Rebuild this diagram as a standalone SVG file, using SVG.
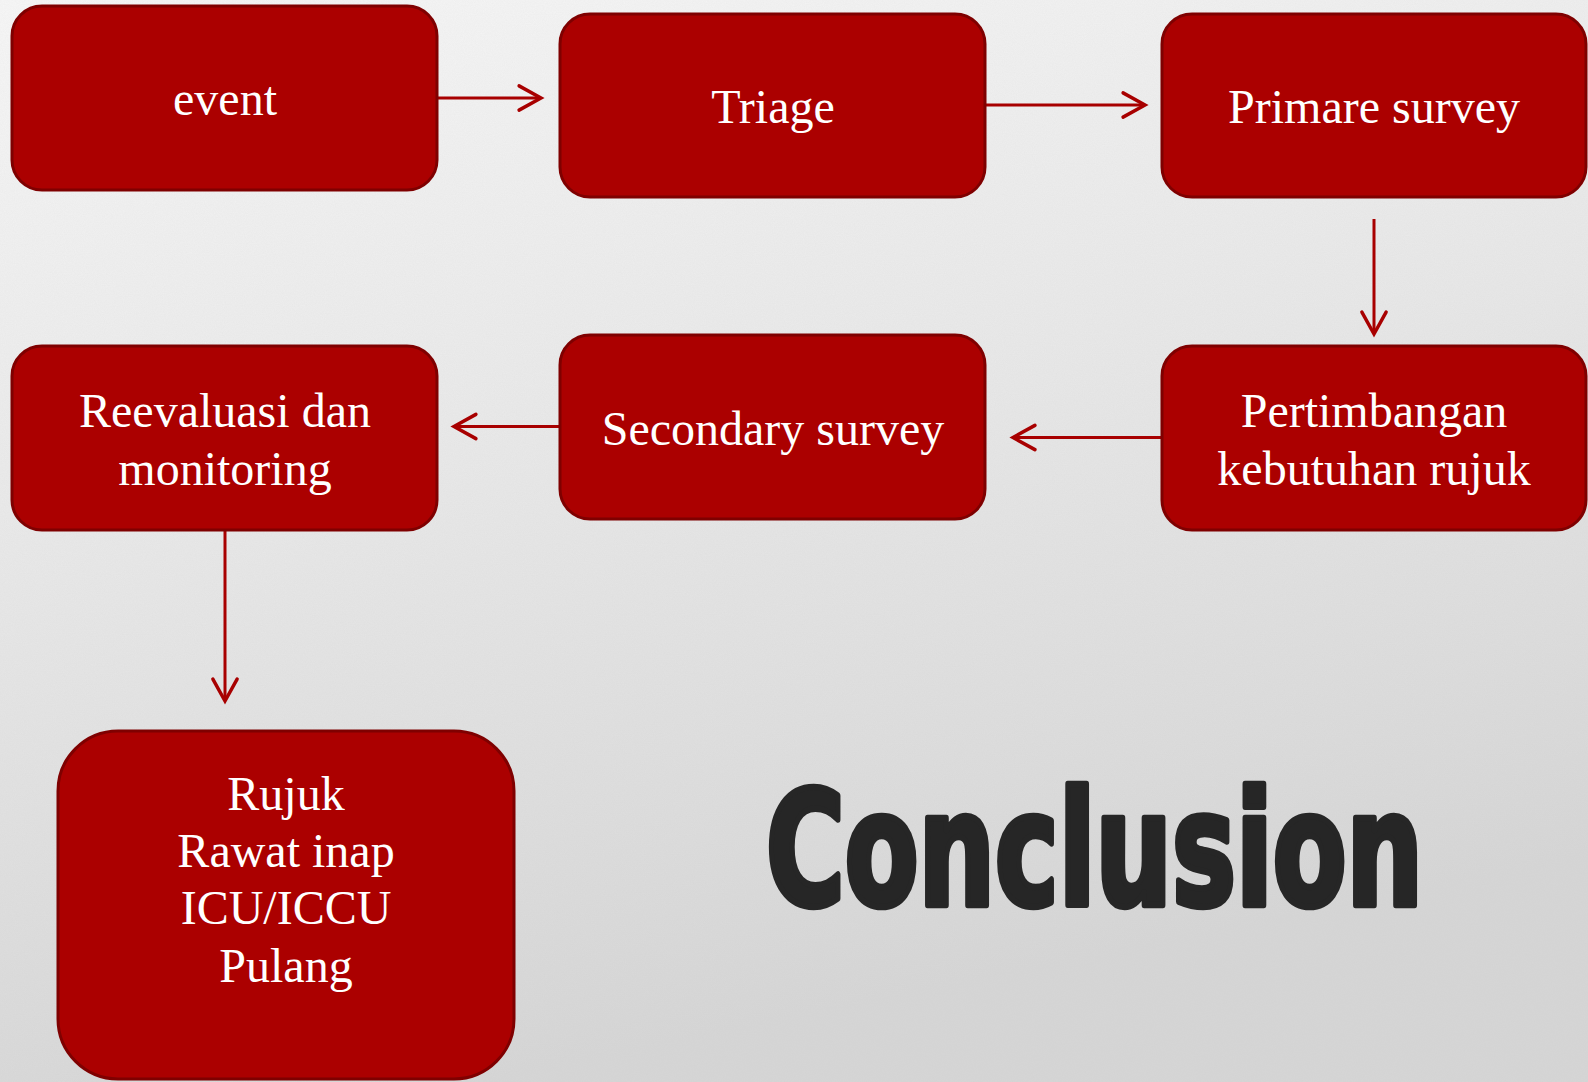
<svg xmlns="http://www.w3.org/2000/svg" width="1588" height="1082" viewBox="0 0 1588 1082">
  <defs>
    <linearGradient id="bg" x1="0" y1="0" x2="0.3" y2="1">
      <stop offset="0" stop-color="#f7f7f7"/>
      <stop offset="0.5" stop-color="#e8e8e8"/>
      <stop offset="1" stop-color="#d6d6d6"/>
    </linearGradient>
    <filter id="noise" x="0" y="0" width="100%" height="100%">
      <feTurbulence type="fractalNoise" baseFrequency="0.9" numOctaves="2" seed="3" result="n"/>
      <feColorMatrix type="matrix" values="0 0 0 0 0.5  0 0 0 0 0.5  0 0 0 0 0.5  0 0 0 0.12 0"/>
    </filter>
    <marker id="arr" markerUnits="userSpaceOnUse" markerWidth="30" markerHeight="30" viewBox="-22 -13 26 26" refX="0" refY="0" orient="auto">
      <path d="M-19,-10.5 L0,0 L-19,10.5" fill="none" stroke="#a80000" stroke-width="3" stroke-linecap="round" stroke-linejoin="miter"/>
    </marker>
    <style>
      .box { fill: #ab0000; stroke: #7f0000; stroke-width: 3; }
      .lbl { font-family: "Liberation Serif", "Times New Roman", serif; font-size: 48px; fill: #ffffff; text-anchor: middle; }
      .conn { stroke: #a80000; stroke-width: 3; fill: none; marker-end: url(#arr); }
      .title { font-family: "DejaVu Sans Condensed", "Liberation Sans", sans-serif; font-weight: bold; font-size: 120px; fill: #262626; stroke: #262626; stroke-width: 5; stroke-linejoin: round; }
    </style>
  </defs>

  <rect x="0" y="0" width="1588" height="1082" fill="url(#bg)"/>
  <rect x="0" y="0" width="1588" height="1082" filter="url(#noise)"/>

  <g id="connectors">
    <line class="conn" x1="437" y1="98" x2="541" y2="98"/>
    <line class="conn" x1="985" y1="105" x2="1145" y2="105"/>
    <line class="conn" x1="1374" y1="219" x2="1374" y2="334"/>
    <line class="conn" x1="1162" y1="437.5" x2="1013" y2="437.5"/>
    <line class="conn" x1="560" y1="426.5" x2="454" y2="426.5"/>
    <line class="conn" x1="225" y1="530" x2="225" y2="701"/>
  </g>

  <g id="node-event">
    <rect class="box" x="12" y="6" width="425" height="184" rx="30" ry="30"/>
    <text class="lbl" x="225" y="115">event</text>
  </g>
  <g id="node-triage">
    <rect class="box" x="560" y="14" width="425" height="183" rx="30" ry="30"/>
    <text class="lbl" x="773" y="123">Triage</text>
  </g>
  <g id="node-primare">
    <rect class="box" x="1162" y="14" width="424" height="183" rx="30" ry="30"/>
    <text class="lbl" x="1374" y="123">Primare survey</text>
  </g>
  <g id="node-pertimbangan">
    <rect class="box" x="1162" y="346" width="424" height="184" rx="30" ry="30"/>
    <text class="lbl" x="1374" y="427">Pertimbangan</text>
    <text class="lbl" x="1374" y="485">kebutuhan rujuk</text>
  </g>
  <g id="node-secondary">
    <rect class="box" x="560" y="335" width="425" height="184" rx="30" ry="30"/>
    <text class="lbl" x="773" y="445">Secondary survey</text>
  </g>
  <g id="node-reevaluasi">
    <rect class="box" x="12" y="346" width="425" height="184" rx="30" ry="30"/>
    <text class="lbl" x="225" y="427">Reevaluasi dan</text>
    <text class="lbl" x="225" y="485">monitoring</text>
  </g>
  <g id="node-rujuk">
    <rect class="box" x="58" y="731" width="456" height="348" rx="60" ry="60"/>
    <text class="lbl" x="286" y="810">Rujuk</text>
    <text class="lbl" x="286" y="867">Rawat inap</text>
    <text class="lbl" x="286" y="924">ICU/ICCU</text>
    <text class="lbl" x="286" y="982">Pulang</text>
  </g>

  <g id="title" transform="translate(766,905) scale(1,1.317)">
    <text class="title" x="0" y="0" textLength="657" lengthAdjust="spacingAndGlyphs">Conclusion</text>
  </g>
</svg>
